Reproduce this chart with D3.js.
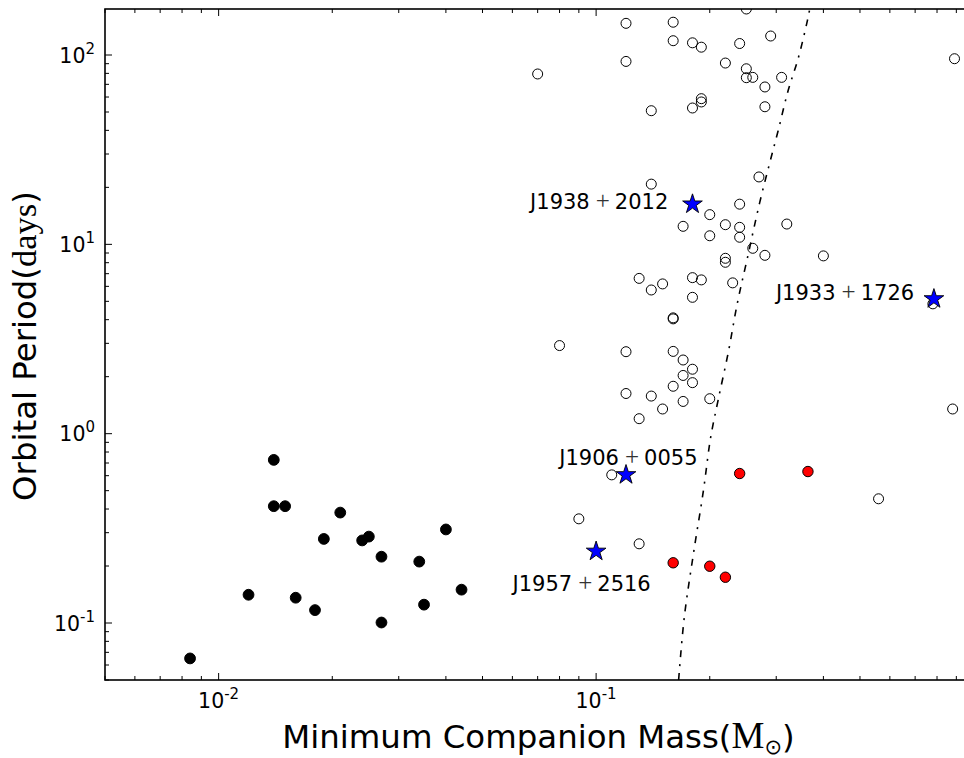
<!DOCTYPE html>
<html>
<head>
<meta charset="utf-8">
<script src="https://cdn.jsdelivr.net/npm/d3@7"></script>
<style>
  html, body { margin: 0; padding: 0; background: #ffffff; }
  svg { display: block; }
</style>
</head>
<body>
<svg id="chart" width="964" height="758"></svg>
<script>
// ---------------- DATA ----------------
// Axis domains
const xDomain = [0.005, 0.98];   // Minimum companion mass (Msun)
const yDomain = [0.05, 175];     // Orbital period (days)

// Black filled circles
const blackMass   = [0.0084, 0.012, 0.014, 0.014, 0.015, 0.016, 0.018, 0.019, 0.021, 0.024, 0.025, 0.027, 0.027, 0.034, 0.035, 0.040, 0.044];
const blackPeriod = [0.065, 0.141, 0.727, 0.414, 0.414, 0.136, 0.117, 0.278, 0.383, 0.273, 0.286, 0.224, 0.1006, 0.211, 0.125, 0.312, 0.150];

// Open circles
const openMass = [
  0.12, 0.16, 0.16, 0.18, 0.19, 0.25, 0.24, 0.29, 0.12, 0.07,
  0.22, 0.25, 0.25, 0.26, 0.28, 0.31, 0.89, 0.14, 0.19, 0.19,
  0.18, 0.28, 0.27, 0.14, 0.24, 0.20, 0.17, 0.22, 0.24, 0.32,
  0.20, 0.24, 0.26, 0.28, 0.40, 0.22, 0.22, 0.13, 0.14, 0.15,
  0.18, 0.19, 0.23, 0.18, 0.16, 0.16, 0.78, 0.08, 0.12, 0.16,
  0.17, 0.18, 0.17, 0.18, 0.16, 0.12, 0.14, 0.20, 0.17, 0.15,
  0.13, 0.88, 0.11, 0.56, 0.09, 0.13
];
const openPeriod = [
  147, 149, 119, 116, 110, 175, 115, 126, 92.5, 79.4,
  90.7, 84.6, 75.9, 76.2, 67.8, 76.2, 95.6, 50.8, 58.8, 56.5,
  52.5, 53.3, 22.7, 20.8, 16.3, 14.35, 12.45, 12.7, 12.3, 12.8,
  11.1, 10.9, 9.53, 8.75, 8.69, 8.44, 8.04, 6.61, 5.74, 6.18,
  6.67, 6.49, 6.26, 5.25, 4.09, 4.04, 4.85, 2.92, 2.71, 2.72,
  2.45, 2.19, 2.03, 1.86, 1.78, 1.63, 1.58, 1.53, 1.48, 1.35,
  1.20, 1.35, 0.606, 0.453, 0.355, 0.262
];

// Red filled circles
const redMass   = [0.16, 0.20, 0.22, 0.24, 0.364];
const redPeriod = [0.208, 0.1995, 0.1745, 0.616, 0.631];

// Blue stars (labelled pulsars)
const starNames  = ["J1938+2012", "J1933+1726", "J1906+0055", "J1957+2516"];
const starMass   = [0.18, 0.785, 0.12, 0.10];
const starPeriod = [16.3, 5.15, 0.606, 0.239];

// Dash-dot relation curve
const curvePeriod = [0.05, 0.107, 0.233, 0.50, 0.95, 1.50, 2.71, 4.86, 8.2, 16.4, 26.7, 39.8, 64.8, 96.8, 152, 175];
const curveMass   = [0.1654, 0.1712, 0.1811, 0.1924, 0.2010, 0.2104, 0.2241, 0.2365, 0.2507, 0.2708, 0.2880, 0.3035, 0.3225, 0.3434, 0.3628, 0.368];

// Text
const xLabelMain = "Minimum Companion Mass(";
const yLabelMain = "Orbital Period(";

// ---------------- LAYOUT ----------------
const plot = { left: 105, right: 970.3, top: 9, bottom: 680 };
const svg = d3.select("#chart");

const x = d3.scaleLog().domain(xDomain).range([plot.left, plot.right]);
const y = d3.scaleLog().domain(yDomain).range([plot.bottom, plot.top]);

const SANS = "'DejaVu Sans', 'Liberation Sans', sans-serif";
const SERIF = "'Liberation Serif', 'DejaVu Serif', serif";

svg.append("rect").attr("width", 964).attr("height", 758).attr("fill", "#ffffff");

svg.append("defs").append("clipPath").attr("id", "plotclip")
  .append("rect")
  .attr("x", plot.left).attr("y", plot.top)
  .attr("width", plot.right - plot.left).attr("height", plot.bottom - plot.top);

const g = svg.append("g").attr("clip-path", "url(#plotclip)");

// Curve
const curvePts = curveMass.map((m, i) => [m, curvePeriod[i]]);
g.append("path")
  .datum(curvePts)
  .attr("d", d3.line().x(d => x(d[0])).y(d => y(d[1])).curve(d3.curveCatmullRom))
  .attr("fill", "none")
  .attr("stroke", "#000")
  .attr("stroke-width", 1.6)
  .attr("stroke-dasharray", "7,7,2,7");

// Black circles
g.selectAll("circle.black")
  .data(blackMass.map((m, i) => [m, blackPeriod[i]]))
  .enter().append("circle").attr("class", "black")
  .attr("cx", d => x(d[0])).attr("cy", d => y(d[1]))
  .attr("r", 5.4).attr("fill", "#000").attr("stroke", "#000").attr("stroke-width", 1);

// Open circles
g.selectAll("circle.open")
  .data(openMass.map((m, i) => [m, openPeriod[i]]))
  .enter().append("circle").attr("class", "open")
  .attr("cx", d => x(d[0])).attr("cy", d => y(d[1]))
  .attr("r", 5).attr("fill", "none").attr("stroke", "#000").attr("stroke-width", 1);

// Red circles
g.selectAll("circle.red")
  .data(redMass.map((m, i) => [m, redPeriod[i]]))
  .enter().append("circle").attr("class", "red")
  .attr("cx", d => x(d[0])).attr("cy", d => y(d[1]))
  .attr("r", 5.2).attr("fill", "#ff0000").attr("stroke", "#000").attr("stroke-width", 1);

// Stars
const starSym = d3.symbol().type(d3.symbolStar).size(120);
g.selectAll("path.star")
  .data(starMass.map((m, i) => [m, starPeriod[i]]))
  .enter().append("path").attr("class", "star")
  .attr("d", starSym)
  .attr("transform", d => `translate(${x(d[0])},${y(d[1])})`)
  .attr("fill", "#0000ff").attr("stroke", "#000").attr("stroke-width", 0.9);

// Star labels (offsets in pixels from each star)
const labelOffset = {
  "J1938+2012": [-162.4, 5],
  "J1933+1726": [-158, 0.7],
  "J1906+0055": [-66.7, -10],
  "J1957+2516": [-83.6, 39.3]
};
starNames.forEach((name, i) => {
  const parts = name.split("+");
  const off = labelOffset[name];
  const t = svg.append("text")
    .attr("x", x(starMass[i]) + off[0])
    .attr("y", y(starPeriod[i]) + off[1])
    .attr("font-family", SANS).attr("font-size", 21).attr("fill", "#000");
  t.append("tspan").text(parts[0]);
  t.append("tspan").attr("dx", 6).attr("font-family", SERIF).attr("font-size", 25).attr("fill", "#333").text("+");
  t.append("tspan").attr("dx", 5).text(parts[1]);
});

// ---------------- AXES ----------------
const axes = svg.append("g");
const isMajor = v => Math.abs(Math.log10(v) - Math.round(Math.log10(v))) < 1e-9;

const xt = x.ticks();
const yt = y.ticks();

// ticks (inward) on bottom, top and left; the right side lies beyond the picture
xt.forEach(v => {
  const len = isMajor(v) ? 7 : 4;
  const px = x(v);
  axes.append("line").attr("x1", px).attr("x2", px).attr("y1", plot.bottom).attr("y2", plot.bottom - len)
    .attr("stroke", "#000").attr("stroke-width", 1);
  axes.append("line").attr("x1", px).attr("x2", px).attr("y1", plot.top).attr("y2", plot.top + len)
    .attr("stroke", "#000").attr("stroke-width", 1);
});
yt.forEach(v => {
  const len = isMajor(v) ? 7 : 4;
  const py = y(v);
  axes.append("line").attr("x1", plot.left).attr("x2", plot.left + len).attr("y1", py).attr("y2", py)
    .attr("stroke", "#000").attr("stroke-width", 1);
});

// spines
axes.append("rect")
  .attr("x", plot.left).attr("y", plot.top)
  .attr("width", plot.right - plot.left).attr("height", plot.bottom - plot.top)
  .attr("fill", "none").attr("stroke", "#000").attr("stroke-width", 1.6);

// tick labels
function expLabel(sel, v) {
  const e = Math.round(Math.log10(v));
  sel.append("tspan").text("10");
  sel.append("tspan").attr("font-size", 15).attr("dy", -9).text(e < 0 ? "-" + Math.abs(e) : String(e));
}
xt.filter(isMajor).forEach(v => {
  const t = axes.append("text")
    .attr("x", x(v)).attr("y", 708)
    .attr("text-anchor", "middle")
    .attr("font-family", SANS).attr("font-size", 20.5).attr("fill", "#000");
  expLabel(t, v);
});
yt.filter(isMajor).forEach(v => {
  const t = axes.append("text")
    .attr("x", 95).attr("y", y(v) + 7.8)
    .attr("text-anchor", "end")
    .attr("font-family", SANS).attr("font-size", 20.5).attr("fill", "#000");
  expLabel(t, v);
});

// axis labels
const xl = svg.append("text")
  .attr("x", 538.5).attr("y", 748)
  .attr("text-anchor", "middle")
  .attr("font-family", SANS).attr("font-size", 32.4).attr("fill", "#000");
xl.append("tspan").text(xLabelMain);
xl.append("tspan").attr("font-family", SERIF).attr("font-size", 37).text("M");
xl.append("tspan").attr("font-size", 21).attr("dy", 6).text("\u2299");
xl.append("tspan").attr("dy", -6).text(")");

const yl = svg.append("text")
  .attr("transform", "translate(36,346) rotate(-90)")
  .attr("text-anchor", "middle")
  .attr("font-family", SANS).attr("font-size", 32.4).attr("fill", "#000");
yl.append("tspan").text(yLabelMain);
yl.append("tspan").attr("font-family", SERIF).attr("font-size", 34.5).text("days");
yl.append("tspan").text(")");
</script>
</body>
</html>
